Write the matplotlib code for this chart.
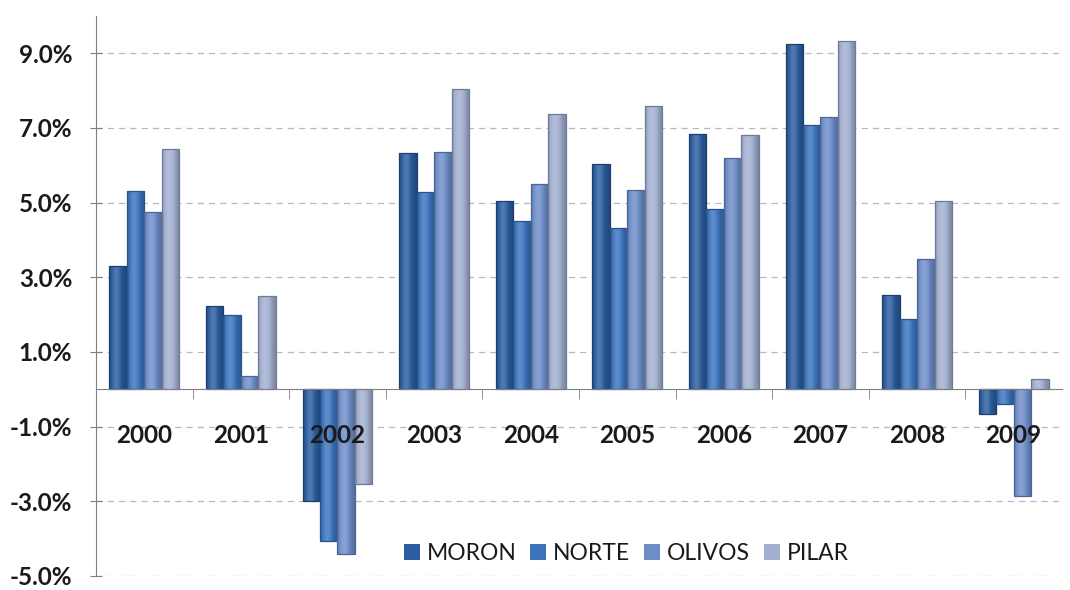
import matplotlib
matplotlib.use("Agg")
import matplotlib.pyplot as plt
import matplotlib.colors as mcolors
import numpy as np

years = ["2000", "2001", "2002", "2003", "2004", "2005", "2006", "2007", "2008", "2009"]
moron = [3.31, 2.24, -2.99, 6.32, 5.03, 6.03, 6.84, 9.24, 2.53, -0.66]
norte = [5.32, 1.98, -4.08, 5.28, 4.50, 4.31, 4.83, 7.09, 1.87, -0.40]
olivos = [4.75, 0.36, -4.41, 6.35, 5.50, 5.34, 6.20, 7.30, 3.49, -2.87]
pilar = [6.44, 2.49, -2.54, 8.04, 7.37, 7.58, 6.81, 9.34, 5.03, 0.27]
series_names = ["MORON", "NORTE", "OLIVOS", "PILAR"]
series = [moron, norte, olivos, pilar]
colors = ["#2B5C9E", "#3C74BC", "#6E8EC8", "#A2AFD0"]
edges = ["#1C3F6E", "#2A5288", "#4C6594", "#6F7A94"]
yticks = [-5, -3, -1, 1, 3, 5, 7, 9]

plt.rcParams['font.family'] = ['Lato', 'DejaVu Sans']

fig = plt.figure(figsize=(10.7, 5.9), dpi=100)
ax = fig.add_axes([0.0897, 0.024, 0.9028, 0.949])

x = np.arange(len(years))
w = 0.181


def shade_profile(base, n=64):
    rgb = np.array(mcolors.to_rgb(base))
    t = np.linspace(0, 1, n)
    prof = np.exp(-((t - 0.4) / 0.32) ** 2)
    out = np.empty((1, n, 3))
    for k in range(n):
        p = prof[k]
        if p >= 0.5:
            c = rgb + (1 - rgb) * (p - 0.5) * 0.35
        else:
            c = rgb * (0.78 + 0.44 * p)
        out[0, k] = np.clip(c, 0, 1)
    return out


for i, (name, vals) in enumerate(zip(series_names, series)):
    bars = ax.bar(x + (i - 1.5) * w, vals, width=w, color=colors[i], edgecolor='none',
                  label=name, zorder=3)
    grad = shade_profile(colors[i])
    for rect in bars:
        x0 = rect.get_x()
        y0 = rect.get_y()
        h = rect.get_height()
        im = ax.imshow(grad, extent=[x0, x0 + rect.get_width(), min(y0, y0 + h), max(y0, y0 + h)],
                       aspect='auto', interpolation='bilinear', zorder=3.5)
        im.set_clip_path(rect)
    ax.bar(x + (i - 1.5) * w, vals, width=w, fill=False, edgecolor=edges[i],
           linewidth=0.9, zorder=4)

ax.set_xlim(-0.5, len(years) - 0.5)
ax.set_ylim(-5, 10)
ax.set_yticks(yticks)
ax.set_yticklabels([f"{v:.1f}%" for v in yticks], fontsize=17.5, fontweight='bold', color='#1a1a1a')
ax.yaxis.grid(True, linestyle=(0, (5, 4)), color='#b8b8b8', linewidth=0.9, zorder=0)
ax.set_axisbelow(True)
ax.tick_params(axis='y', direction='inout', length=8, pad=13, color='#808080')

ax.spines['top'].set_visible(False)
ax.spines['right'].set_visible(False)
ax.spines['left'].set_color('#808080')
ax.spines['left'].set_bounds(-5, 10)
ax.spines['bottom'].set_position(('data', 0))
ax.spines['bottom'].set_color('#808080')
ax.spines['bottom'].set_zorder(4.5)

ax.set_xticks(x)
ax.set_xticklabels([])
ax.tick_params(axis='x', which='major', length=0)
ax.set_xticks(np.arange(0.5, len(years) - 0.5, 1), minor=True)
ax.tick_params(axis='x', which='minor', direction='out', length=7, color='#808080')
for xi, yr in zip(x, years):
    ax.annotate(yr, (xi, 0), xytext=(0, -25), textcoords='offset points',
                ha='center', va='top', fontsize=17.5, fontweight='bold',
                color='#1a1a1a', zorder=6)

leg = ax.legend(loc='center', bbox_to_anchor=(0.549, 0.040), ncol=4, frameon=False,
                fontsize=16.5, handlelength=0.7, handleheight=0.7, handletextpad=0.3,
                columnspacing=0.6, borderaxespad=0)
for t in leg.get_texts():
    t.set_color('#1a1a1a')

fig.savefig("out.png", dpi=100)
